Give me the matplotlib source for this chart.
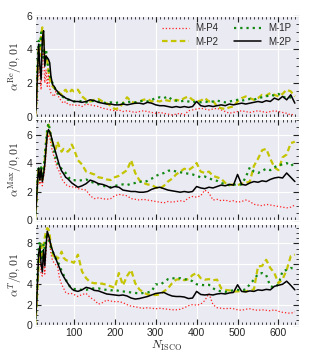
import matplotlib
matplotlib.use("Agg")
import matplotlib.pyplot as plt
import seaborn as sns
from matplotlib.ticker import MultipleLocator

sns.set_style("darkgrid")
plt.rcParams["mathtext.fontset"] = "cm"
plt.rcParams["font.family"] = ["Liberation Sans", "DejaVu Sans"]

# N_ISCO grid
N = [5, 8, 11, 14, 17, 20, 23, 26, 29, 32, 35, 38, 41, 44, 48, 52, 56, 60, 65, 70,
     75, 80, 85, 90, 95, 100] + list(range(110, 641, 10))

labels = ["M-P4", "M-P2", "M-1P", "M-2P"]

# alpha^Re / 0.01
re_p4 = [0.0, 0.3, 1.5, 3.2, 2.5, 1.6, 3.6, 3.9, 2.0, 2.8, 1.8, 2.6, 1.7, 1.4, 1.3, 1.2, 1.5, 1.3, 1.1, 0.9,
         0.8, 0.9, 0.75, 0.7, 0.75, 0.65,
         0.7, 0.6, 0.75, 0.7, 0.65, 0.6, 0.5, 0.45, 0.4, 0.35, 0.4, 0.3, 0.35, 0.3, 0.25, 0.3, 0.35, 0.3, 0.25, 0.2,
         0.25, 0.2, 0.15, 0.1, 0.15, 0.2, 0.1, 0.35, 0.4, 0.45, 0.5, 0.45, 0.4, 0.45, 0.5, 0.4, 0.3, 0.2, 0.25, 0.3,
         0.35, 0.3, 0.25, 0.3, 0.35, 0.3, 0.25, 0.3, 0.35, 0.3, 0.25, 0.2, 0.1, 0.15]
re_p2 = [0.0, 0.7, 2.8, 4.0, 3.6, 4.8, 5.3, 4.6, 3.4, 3.6, 3.3, 2.7, 2.3, 2.0, 1.8, 1.7, 1.6, 1.55, 1.4, 1.3,
         1.5, 1.6, 1.4, 1.45, 1.6, 1.5,
         1.6, 1.2, 1.0, 0.9, 1.0, 1.05, 0.9, 0.8, 0.65, 0.45, 0.5, 0.8, 1.15, 0.9, 0.8, 0.9, 1.0, 1.05, 0.9, 0.95,
         0.9, 1.0, 0.95, 0.9, 1.0, 0.95, 1.1, 1.2, 1.0, 0.9, 0.95, 1.1, 0.9, 0.95, 0.6, 0.5, 0.45, 0.55, 0.6, 0.9,
         1.1, 1.2, 1.1, 1.0, 1.1, 1.3, 1.25, 1.4, 1.3, 1.2, 1.35, 1.6, 1.5, 1.2]
re_1p = [0.0, 0.8, 3.0, 4.5, 4.2, 5.0, 4.2, 3.5, 3.8, 4.0, 3.3, 2.8, 2.5, 2.2, 2.0, 1.8, 1.5, 1.4, 1.3, 1.2,
         1.15, 1.1, 1.0, 1.0, 0.95, 0.9,
         0.95, 0.9, 0.85, 0.9, 0.95, 0.9, 0.85, 0.8, 0.85, 0.8, 0.85, 0.8, 0.85, 0.9, 0.85, 0.9, 0.95, 0.9, 1.0, 1.1,
         1.15, 1.1, 1.2, 1.0, 0.95, 0.9, 0.95, 0.9, 0.85, 0.9, 0.85, 0.9, 0.85, 0.9, 0.95, 0.9, 0.85, 0.9, 0.95, 1.0,
         0.95, 1.0, 1.05, 1.0, 1.1, 1.15, 1.2, 1.3, 1.25, 1.35, 1.2, 1.1, 1.15, 1.05]
re_2p = [0.0, 0.6, 2.5, 4.3, 3.0, 2.2, 4.6, 5.1, 3.0, 3.6, 3.5, 3.4, 3.2, 2.4, 1.9, 1.8, 1.6, 1.5, 1.35, 1.25,
         1.2, 1.1, 1.05, 1.0, 0.95, 0.9,
         0.9, 0.85, 0.9, 1.0, 0.95, 0.85, 0.8, 0.75, 0.75, 0.7, 0.7, 0.75, 0.7, 0.75, 0.8, 0.8, 0.75, 0.85, 0.8, 0.7,
         0.65, 0.65, 0.6, 0.55, 0.6, 0.55, 0.6, 0.55, 0.6, 0.9, 0.65, 0.6, 0.65, 0.6, 0.65, 0.7, 0.65, 0.75, 0.7, 0.75,
         0.8, 0.75, 0.8, 0.85, 0.9, 0.85, 0.95, 0.9, 1.1, 1.0, 1.2, 1.0, 1.3, 0.8]

# alpha^Max / 0.01
max_p4 = [0.0, 0.8, 2.2, 3.3, 2.5, 3.2, 2.4, 3.0, 3.6, 4.6, 5.6, 6.0, 5.8, 5.3, 4.8, 4.4, 4.0, 3.6, 3.4, 2.9,
          2.7, 2.5, 2.4, 2.35, 2.3, 2.35,
          2.2, 2.15, 2.1, 1.7, 1.5, 1.55, 1.5, 1.45, 1.5, 1.7, 1.8, 1.75, 1.7, 1.5, 1.45, 1.4, 1.45, 1.4, 1.35, 1.3,
          1.25, 1.2, 1.3, 1.25, 1.3, 1.35, 1.3, 1.55, 1.65, 1.6, 1.7, 2.1, 1.9, 1.4, 1.45, 1.35, 1.4, 1.3, 1.35, 1.25,
          1.3, 1.4, 1.3, 1.1, 1.05, 1.0, 1.1, 1.05, 1.0, 0.95, 0.9, 0.85, 0.9, 1.05]
max_p2 = [0.0, 1.0, 2.6, 3.6, 2.9, 3.5, 2.8, 3.4, 4.2, 5.3, 6.2, 6.7, 6.3, 5.8, 5.4, 5.2, 5.0, 5.5, 5.1, 4.8,
          5.0, 4.9, 4.8, 4.95, 5.3, 5.0,
          4.2, 3.9, 3.4, 3.3, 3.2, 3.0, 2.95, 2.85, 2.8, 3.0, 3.1, 3.3, 3.5, 4.2, 3.3, 2.8, 2.6, 2.5, 2.45, 2.3,
          2.2, 2.4, 2.7, 2.9, 3.2, 3.4, 3.6, 3.5, 3.7, 4.0, 3.4, 3.3, 3.4, 3.1, 3.0, 2.9, 2.6, 2.45, 2.5, 2.45,
          2.55, 2.6, 2.7, 3.8, 4.3, 4.9, 5.0, 4.3, 3.7, 3.5, 4.4, 4.6, 5.4, 5.5]
max_1p = [0.0, 1.1, 2.8, 3.8, 3.0, 3.7, 3.0, 3.6, 4.5, 5.5, 6.4, 6.8, 6.4, 5.9, 5.3, 4.8, 4.3, 4.0, 3.75, 3.6,
          3.45, 3.3, 3.1, 2.9, 2.8, 2.8,
          2.75, 2.8, 2.85, 2.7, 2.6, 2.5, 2.4, 2.35, 2.3, 2.4, 2.45, 2.5, 2.45, 2.55, 2.6, 2.7, 2.65, 2.75, 2.9, 3.1,
          3.2, 3.3, 3.45, 3.5, 3.4, 3.35, 3.3, 3.25, 3.2, 3.1, 3.0, 3.05, 2.95, 2.8, 2.75, 2.6, 2.5, 2.45, 2.5, 2.45,
          2.5, 3.0, 3.7, 3.4, 3.3, 3.45, 3.6, 3.5, 3.7, 3.85, 3.9, 4.0, 3.8, 4.0]
max_2p = [0.0, 1.0, 2.6, 3.65, 2.8, 3.6, 2.7, 3.2, 3.9, 5.0, 6.0, 6.35, 6.2, 5.95, 5.5, 5.1, 4.7, 4.3, 3.8, 3.45,
          3.25, 3.0, 2.9, 2.75, 2.6, 2.5,
          2.3, 2.4, 2.55, 2.8, 2.7, 2.55, 2.5, 2.4, 2.25, 2.35, 2.3, 2.1, 2.05, 2.0, 2.0, 1.95, 1.95, 2.0, 2.15, 2.25,
          2.3, 2.2, 2.1, 2.05, 2.0, 1.95, 2.0, 1.95, 2.0, 2.35, 2.25, 2.2, 2.3, 2.25, 2.35, 2.45, 2.4, 2.5, 2.45, 3.2,
          2.5, 2.45, 2.6, 2.7, 2.65, 2.75, 2.7, 2.85, 2.95, 3.0, 2.95, 3.3, 3.0, 2.7]

# alpha^T / 0.01
t_p4 = [0.0, 1.2, 3.5, 6.5, 7.3, 5.0, 4.8, 6.8, 5.0, 7.2, 8.8, 8.5, 8.0, 7.0, 6.3, 6.1, 5.9, 5.75, 4.6, 4.0,
        3.6, 3.2, 3.1, 3.05, 3.1, 3.0,
        2.8, 3.0, 3.1, 2.7, 2.45, 2.05, 2.2, 2.45, 2.35, 2.3, 2.3, 2.2, 2.0, 1.85, 1.8, 1.7, 1.65, 1.7, 1.65, 1.6,
        1.65, 1.6, 1.55, 1.5, 1.5, 1.55, 1.7, 1.9, 2.0, 1.95, 2.05, 2.4, 3.1, 2.0, 1.7, 1.65, 1.6, 1.65, 1.6, 1.5,
        1.45, 1.55, 1.6, 1.5, 1.45, 1.5, 1.45, 1.4, 1.5, 1.35, 1.25, 1.2, 1.15, 1.3]
t_p2 = [0.0, 1.3, 3.6, 6.0, 7.4, 7.9, 6.5, 7.8, 8.6, 9.2, 9.5, 9.4, 8.8, 7.8, 7.0, 6.6, 6.8, 6.5, 6.7, 7.2,
        6.6, 6.4, 6.3, 6.25, 6.2, 6.1,
        6.9, 5.25, 4.6, 4.2, 4.1, 4.1, 4.05, 3.95, 3.8, 3.65, 5.1, 3.9, 4.8, 5.4, 4.1, 3.5, 3.2, 3.0, 2.95, 2.95,
        3.0, 3.3, 3.6, 4.1, 4.45, 4.5, 4.4, 4.5, 4.9, 5.1, 4.6, 4.45, 4.5, 4.4, 4.45, 3.6, 3.45, 3.4, 3.3, 3.3,
        3.35, 3.3, 3.4, 3.5, 5.75, 5.8, 6.4, 5.6, 5.1, 4.1, 4.5, 5.4, 6.75, 6.9]
t_1p = [0.0, 1.6, 4.5, 7.6, 8.2, 7.0, 6.3, 8.0, 7.5, 8.5, 9.05, 8.6, 8.0, 7.6, 7.2, 6.9, 6.5, 6.2, 5.9, 5.3,
        4.9, 4.5, 4.1, 3.8, 3.6, 3.55,
        3.5, 3.45, 3.45, 3.55, 3.6, 3.6, 3.5, 3.45, 3.4, 3.45, 3.35, 3.3, 3.25, 3.2, 3.15, 3.1, 3.15, 3.2, 3.3, 4.0,
        3.95, 4.2, 4.5, 4.6, 4.55, 4.6, 4.5, 4.45, 4.3, 4.0, 3.95, 3.9, 3.95, 3.6, 3.4, 3.3, 3.25, 3.35, 3.4, 3.45,
        3.4, 3.5, 4.0, 4.45, 5.0, 5.1, 4.9, 3.8, 3.7, 4.0, 5.3, 5.4, 5.6, 5.5]
t_2p = [0.0, 1.5, 4.0, 7.0, 7.7, 6.0, 5.2, 7.4, 5.8, 7.7, 9.2, 8.8, 8.4, 7.8, 7.3, 6.9, 6.5, 6.1, 5.6, 5.1,
        4.75, 4.4, 4.1, 3.8, 3.55, 3.4,
        3.3, 3.45, 3.7, 3.6, 3.4, 3.35, 3.2, 3.05, 3.0, 2.95, 2.9, 2.95, 2.85, 2.65, 2.55, 2.6, 2.7, 2.8, 2.95, 3.1,
        3.15, 3.2, 3.0, 2.85, 2.8, 2.8, 2.75, 2.6, 2.65, 3.3, 3.0, 2.95, 3.0, 2.95, 3.05, 3.1, 3.05, 3.15, 3.2, 3.95,
        3.3, 3.25, 3.35, 3.3, 3.45, 3.4, 3.5, 3.45, 3.8, 3.9, 4.0, 4.3, 3.9, 3.45]

panels = [
    ([re_p4, re_p2, re_1p, re_2p], r"$\alpha^{\rm Re}/0,01$", 6.0),
    ([max_p4, max_p2, max_1p, max_2p], r"$\alpha^{\rm Max}/0,01$", 7.1),
    ([t_p4, t_p2, t_1p, t_2p], r"$\alpha^{T}/0,01$", 9.9),
]

styles = [
    dict(color="#ff2020", ls=":", lw=0.9),
    dict(color="#c4c400", ls=(0, (2.5, 1.5)), lw=1.6),
    dict(color="#118811", ls=(0, (1, 1.8)), lw=1.6),
    dict(color="black", ls="-", lw=1.1),
]

fig = plt.figure(figsize=(3.15, 3.6), dpi=100)
bottoms = [0.676, 0.389, 0.097]

for i, (series, ylab, ytop) in enumerate(panels):
    ax = fig.add_axes([0.111, bottoms[i], 0.838, 0.2806])
    for vals, lab, st in zip(series, labels, styles):
        ax.plot(N, vals, label=lab, **st)
    ax.set_xlim(5, 650)
    ax.set_ylim(0, ytop)
    ax.xaxis.set_major_locator(MultipleLocator(100))
    ax.xaxis.set_minor_locator(MultipleLocator(10))
    ax.yaxis.set_major_locator(MultipleLocator(2))
    ax.yaxis.set_minor_locator(MultipleLocator(0.5))
    ax.tick_params(which="both", direction="in", top=True, right=True,
                   bottom=True, left=True, color="#222222", labelsize=7.5, pad=2)
    ax.tick_params(which="major", length=4, width=0.8)
    ax.tick_params(which="minor", length=2.5, width=0.6)
    ax.set_ylabel(ylab, fontsize=8.5, labelpad=2)
    if i < 2:
        ax.tick_params(labelbottom=False)
    else:
        ax.set_xlabel(r"$N_{\rm ISCO}$", fontsize=8.5, labelpad=1)
    if i == 0:
        ax.legend(loc="upper right", ncol=2, frameon=False, fontsize=7,
                  handlelength=2.8, columnspacing=1.6, handletextpad=0.7,
                  borderaxespad=0.4, labelspacing=0.35)

fig.savefig("out.png", dpi=100)
